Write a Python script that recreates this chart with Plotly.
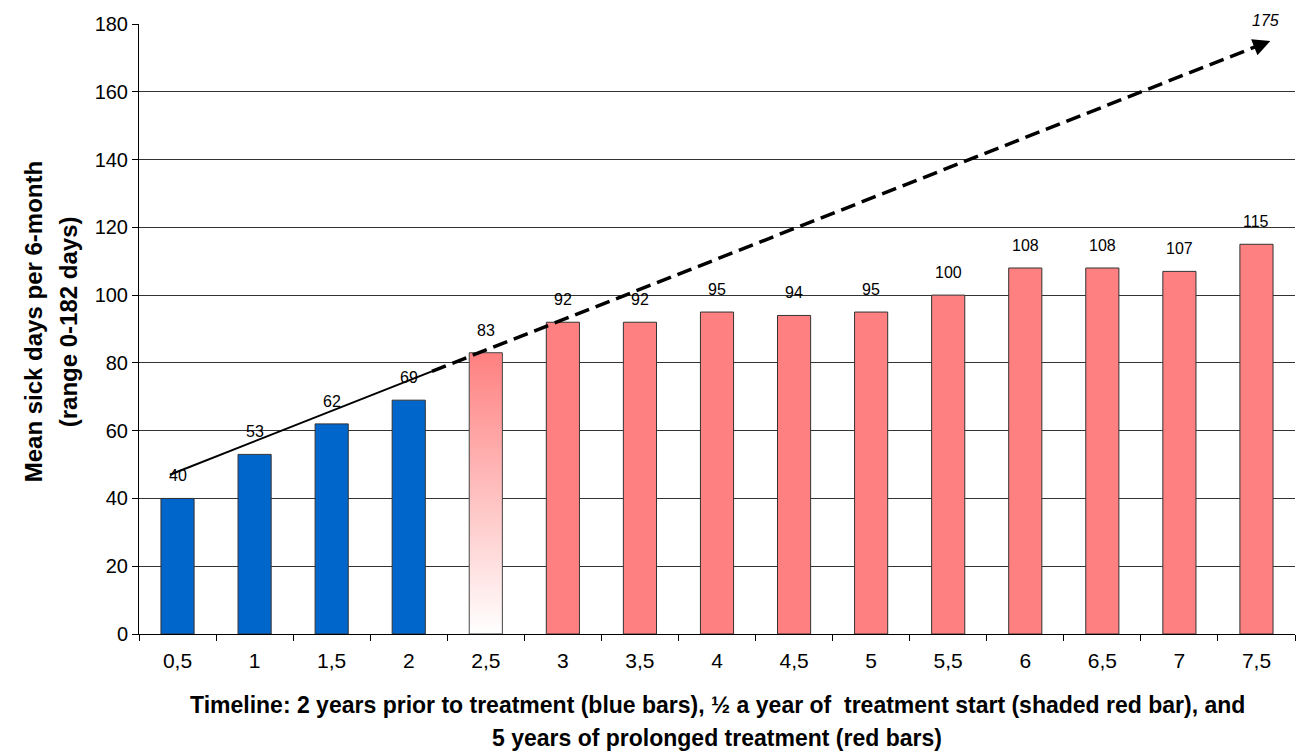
import plotly.graph_objects as go

# Half-year periods on the timeline and mean sick days per period
periods = ["0,5", "1", "1,5", "2", "2,5", "3", "3,5", "4", "4,5", "5", "5,5", "6", "6,5", "7", "7,5"]
sick_days = [40, 53, 62, 69, 83, 92, 92, 95, 94, 95, 100, 108, 108, 107, 115]
phase = ["pre", "pre", "pre", "pre", "start", "treat", "treat", "treat", "treat",
         "treat", "treat", "treat", "treat", "treat", "treat"]

# Trend line: solid over the pre-treatment bars, dashed extrapolation beyond
trend_x = [-0.1, 3.3, 14.18]
trend_y = [47, 77.5, 175]
trend_label = "175"

x_title_lines = ["Timeline: 2 years prior to treatment (blue bars), ½ a year of  treatment start (shaded red bar), and",
                 "5 years of prolonged treatment (red bars)"]
y_title_lines = ["Mean sick days per 6-month", "(range 0-182 days)"]

phase_colors = {"pre": "#0066CC", "treat": "#FF8080"}
FONT = "Arial, Liberation Sans, sans-serif"
BAR_W = 0.43

idx = list(range(len(periods)))
fig = go.Figure()

solid_idx = [i for i in idx if phase[i] != "start"]
fig.add_trace(go.Bar(
    x=solid_idx,
    y=[sick_days[i] for i in solid_idx],
    width=BAR_W,
    marker=dict(color=[phase_colors[phase[i]] for i in solid_idx],
                line=dict(color="#333333", width=1)),
    showlegend=False, hoverinfo="skip",
))

# Treatment-start bar with a vertical white-to-red gradient
for i in idx:
    if phase[i] == "start":
        x0, x1 = i - BAR_W / 2, i + BAR_W / 2
        fig.add_trace(go.Scatter(
            x=[x0, x0, x1, x1, x0],
            y=[0, sick_days[i], sick_days[i], 0, 0],
            mode="lines", fill="toself",
            fillgradient=dict(type="vertical",
                              colorscale=[[0, "#FFFFFF"], [1, "#FF8080"]]),
            line=dict(color="#444444", width=1),
            showlegend=False, hoverinfo="skip",
        ))

# Trend line
fig.add_trace(go.Scatter(x=trend_x[:2], y=trend_y[:2], mode="lines",
                         line=dict(color="black", width=2),
                         showlegend=False, hoverinfo="skip"))
fig.add_trace(go.Scatter(x=trend_x[1:], y=trend_y[1:], mode="lines",
                         line=dict(color="black", width=3.5, dash="15px,7px"),
                         showlegend=False, hoverinfo="skip"))

# Arrowhead at the end of the extrapolation
dx = trend_x[2] - trend_x[1]
dy = trend_y[2] - trend_y[1]
fig.add_annotation(x=trend_x[2], y=trend_y[2], ax=trend_x[2] - dx * 0.02,
                   ay=trend_y[2] - dy * 0.02, xref="x", yref="y",
                   axref="x", ayref="y", showarrow=True, arrowhead=2,
                   arrowsize=1.15, arrowwidth=3, arrowcolor="black", text="")
fig.add_annotation(x=trend_x[2], y=trend_y[2], text=trend_label, showarrow=False,
                   xanchor="center", yanchor="bottom", yshift=10, xshift=-5,
                   font=dict(family=FONT, size=16, color="black", style="italic"))

# Value labels above the bars
for i in idx:
    fig.add_annotation(x=i, y=sick_days[i], text=str(sick_days[i]), showarrow=False,
                       yanchor="bottom", yshift=12,
                       font=dict(family=FONT, size=16, color="black"))

# Axis titles, one annotation per line
for k, line in enumerate(x_title_lines):
    fig.add_annotation(x=0.5, y=0, xref="paper", yref="paper", text=f"<b>{line}</b>",
                       showarrow=False, xanchor="center", yanchor="middle",
                       yshift=-71 - 33 * k,
                       font=dict(family=FONT, size=23, color="black"))
for k, line in enumerate(y_title_lines):
    fig.add_annotation(x=0, y=0.511, xref="paper", yref="paper", text=f"<b>{line}</b>",
                       showarrow=False, textangle=-90, xanchor="center", yanchor="middle",
                       xshift=-106 + 35 * k,
                       font=dict(family=FONT, size=24, color="black"))

fig.update_layout(
    width=1298, height=754,
    margin=dict(l=139, r=3, t=24, b=120),
    plot_bgcolor="white", paper_bgcolor="white",
    font=dict(family=FONT, size=20, color="black"),
    bargap=0.57,
)
fig.update_xaxes(
    range=[-0.5, 14.5],
    tickmode="array", tickvals=idx, ticktext=periods,
    ticks="", showgrid=False, zeroline=False,
    showline=True, linecolor="black", linewidth=1,
    tickfont=dict(family=FONT, size=21, color="black"),
    ticklabelstandoff=8,
    minor=dict(tickmode="array", tickvals=[i - 0.5 for i in range(len(periods) + 1)],
               ticks="outside", ticklen=6, tickcolor="black", showgrid=False),
)
fig.update_yaxes(
    range=[0, 180], tickmode="array", tickvals=list(range(0, 181, 20)),
    ticks="outside", ticklen=6, tickcolor="black",
    showgrid=True, gridcolor="#333333", gridwidth=1, zeroline=False,
    showline=True, linecolor="black", linewidth=1,
    tickfont=dict(family=FONT, size=20, color="black"),
)

fig.write_html("out.html")
